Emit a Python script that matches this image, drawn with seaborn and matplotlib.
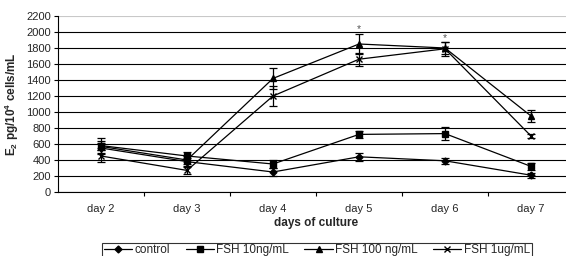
import numpy as np
import pandas as pd
import matplotlib
matplotlib.use("Agg")
import matplotlib.pyplot as plt
import seaborn as sns
from matplotlib.lines import Line2D

days = ["day 2", "day 3", "day 4", "day 5", "day 6", "day 7"]
series = ["control", "FSH 10ng/mL", "FSH 100 ng/mL", "FSH 1ug/mL"]
control = [550, 380, 250, 440, 390, 210]
fsh10 = [580, 450, 350, 720, 730, 320]
fsh100 = [570, 400, 1420, 1850, 1800, 950]
fsh1ug = [450, 270, 1200, 1660, 1790, 700]
err_control = [60, 50, 50, 50, 40, 30]
err_fsh10 = [60, 50, 50, 40, 80, 40]
err_fsh100 = [100, 50, 130, 120, 80, 80]
err_fsh1ug = [80, 40, 130, 80, 90, 30]
star_days = ["day 5", "day 6"]
star_values = [2040, 1930]

sns.set_theme(style="white")
plt.rcParams["font.family"] = ["Liberation Sans", "DejaVu Sans"]
plt.rcParams["mathtext.default"] = "regular"

vals = [control, fsh10, fsh100, fsh1ug]
errs = [err_control, err_fsh10, err_fsh100, err_fsh1ug]

fig = plt.figure(figsize=(5.66, 2.56), dpi=100)
ax = fig.add_axes([58 / 566, 64 / 256, 516 / 566, 176 / 256])

markers = {"control": "D", "FSH 10ng/mL": "s", "FSH 100 ng/mL": "^", "FSH 1ug/mL": "x"}
msize = {"control": 3.5, "FSH 10ng/mL": 4.5, "FSH 100 ng/mL": 5, "FSH 1ug/mL": 5}

xpos = np.arange(len(days))
for s, v, e in zip(series, vals, errs):
    ax.errorbar(xpos, v, yerr=e, fmt="none", ecolor="black",
                elinewidth=0.9, capsize=3, capthick=0.9, zorder=3)
    d = pd.DataFrame({"day": xpos, "value": v})
    sns.lineplot(data=d, x="day", y="value", color="black", marker=markers[s],
                 markersize=msize[s], markeredgecolor="black", markeredgewidth=1.0,
                 linewidth=0.9, ax=ax, zorder=4)

for dname, sv in zip(star_days, star_values):
    ax.text(days.index(dname), sv, "*", ha="center", va="center", fontsize=7.5, color="#555555")

ax.set_xlim(-0.5, 5.5)
ax.set_ylim(0, 2200)
ax.set_yticks(np.arange(0, 2201, 200))
ax.set_xticks(xpos)
ax.set_xticklabels(days)
ax.set_xticks(np.arange(0.5, 5.5, 1), minor=True)
ax.tick_params(axis="x", which="major", length=0, labelsize=8, pad=9)
ax.tick_params(axis="x", which="minor", length=3, width=0.8, color="black", direction="out", bottom=True)
ax.tick_params(axis="y", length=3, width=0.8, color="black", direction="out", left=True, labelsize=8, pad=2)
ax.yaxis.grid(True, color="black", linewidth=0.8)
ax.get_ygridlines()[-1].set_color("#c8c8c8")
ax.set_axisbelow(True)
for sp in ["top", "right"]:
    ax.spines[sp].set_visible(False)
for sp in ["left", "bottom"]:
    ax.spines[sp].set_color("black")
    ax.spines[sp].set_linewidth(0.8)

ax.set_xlabel("days of culture", fontsize=8.5, fontweight="bold", labelpad=2)
ax.set_ylabel("E$_2$ pg/10$^4$ cells/mL", fontsize=8.5, fontweight="bold", labelpad=4)

handles = [Line2D([], [], color="black", lw=0.9, marker=markers[s], markersize=msize[s],
                  markeredgecolor="black") for s in series]
leg = fig.legend(handles, series, loc="lower center", bbox_to_anchor=(0.56, -0.008),
                 ncol=4, fontsize=8.5, frameon=True, fancybox=False, edgecolor="black",
                 handlelength=2.4, columnspacing=1.3, handletextpad=0.2,
                 borderpad=0.15, borderaxespad=0)
leg.get_frame().set_linewidth(0.8)

fig.savefig("out.png", dpi=100)
